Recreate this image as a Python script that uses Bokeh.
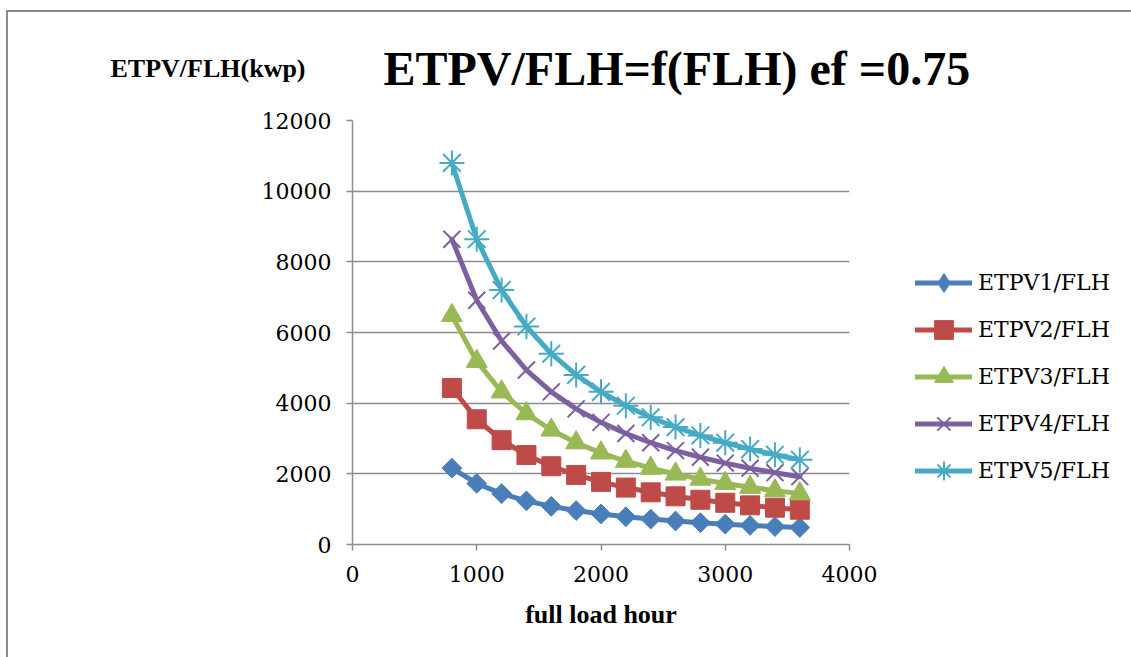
import math
from bokeh.plotting import figure
from bokeh.models import Legend, LegendItem, FixedTicker, Range1d, Title
from bokeh.embed import file_html
from bokeh.resources import INLINE

# ---- data ----
flh = [800, 1000, 1200, 1400, 1600, 1800, 2000, 2200, 2400, 2600, 2800, 3000, 3200, 3400, 3600]
etpv1 = [2160, 1728, 1440, 1234, 1080, 960, 864, 785, 720, 665, 617, 576, 540, 508, 480]
etpv2 = [4430, 3544, 2953, 2531, 2215, 1969, 1772, 1611, 1477, 1363, 1266, 1181, 1108, 1042, 984]
etpv3 = [6480, 5184, 4320, 3703, 3240, 2880, 2592, 2356, 2160, 1994, 1851, 1728, 1620, 1525, 1440]
etpv4 = [8640, 6912, 5760, 4937, 4320, 3840, 3456, 3142, 2880, 2658, 2469, 2304, 2160, 2033, 1920]
etpv5 = [10800, 8640, 7200, 6171, 5400, 4800, 4320, 3927, 3600, 3323, 3086, 2880, 2700, 2541, 2400]
series_names = ["ETPV1/FLH", "ETPV2/FLH", "ETPV3/FLH", "ETPV4/FLH", "ETPV5/FLH"]
x_ticks = [0, 1000, 2000, 3000, 4000]
y_ticks = [0, 2000, 4000, 6000, 8000, 10000, 12000]
title_text = "ETPV/FLH=f(FLH) ef =0.75"
y_title = "ETPV/FLH(kwp)"
x_title = "full load hour"

colors = ["#4A7EBB", "#BE4B48", "#98B954", "#7D60A0", "#46AAC5"]
markers = ["square", "square", "triangle", "x", "asterisk"]
legend_markers = ["diamond", None, None, None, None]
angles = [math.pi / 4, 0, 0, 0, 0]
sizes = [14, 19, 21, 24, 25]

GRID = "#8c8c8c"
SERIF = "DejaVu Serif"
TIMES = "Liberation Serif"

p = figure(frame_width=497, frame_height=424, output_backend="svg", toolbar_location=None,
           x_range=Range1d(0, 4000), y_range=Range1d(0, 12000),
           min_border_left=352, min_border_right=282, min_border_top=120,
           min_border_bottom=113)
p.outline_line_color = None
p.background_fill_color = "white"
p.border_fill_alpha = 0
p.styles = {
    "background-color": "white",
    "background-image": "linear-gradient(#8a8a8a,#8a8a8a), linear-gradient(#8a8a8a,#8a8a8a)",
    "background-size": "2px 100%, 100% 2px",
    "background-position": "6px 10px, 6px 10px",
    "background-repeat": "no-repeat",
}

p.xgrid.visible = False
p.ygrid.grid_line_color = GRID
p.ygrid.grid_line_width = 1.5
p.ygrid.ticker = FixedTicker(ticks=y_ticks)

for ax, ticks in ((p.xaxis[0], x_ticks), (p.yaxis[0], y_ticks)):
    ax.ticker = FixedTicker(ticks=ticks)
    ax.axis_line_color = GRID
    ax.axis_line_width = 1.5
    ax.major_tick_line_color = GRID
    ax.major_tick_line_width = 1.5
    ax.major_tick_out = 6
    ax.major_tick_in = 0
    ax.minor_tick_line_color = None
    ax.major_label_text_font = SERIF
    ax.major_label_text_font_size = "22px"
    ax.major_label_text_color = "black"

p.xaxis.major_label_standoff = 15
p.yaxis.major_label_standoff = 15
p.xaxis.axis_label = x_title
p.xaxis.axis_label_text_font = TIMES
p.xaxis.axis_label_text_font_style = "bold"
p.xaxis.axis_label_text_font_size = "26px"
p.xaxis.axis_label_text_color = "black"
p.xaxis.axis_label_standoff = 15

data = [etpv1, etpv2, etpv3, etpv4, etpv5]
items = []
for name, ys, c, m, lm, a, s in zip(series_names, data, colors, markers, legend_markers, angles, sizes):
    lr = p.line(flh, ys, line_color=c, line_width=5, line_join="round", line_cap="round")
    if m in ("x", "asterisk"):
        sr = p.scatter(flh, ys, marker=m, size=s, line_color=c, line_width=2, fill_color=c)
    else:
        sr = p.scatter(flh, ys, marker=m, size=s, angle=a, line_color=c, fill_color=c, line_width=1)
    if lm is not None:
        # legend-only glyph (the legend ignores marker rotation)
        lg = p.scatter(flh, ys, marker=lm, size=s, line_color=c, fill_color=c, visible=False)
        items.append(LegendItem(label=name, renderers=[lr, lg]))
    else:
        items.append(LegendItem(label=name, renderers=[lr, sr]))

legend = Legend(items=items, location=(66, 50), orientation="vertical",
                glyph_width=57, glyph_height=47, label_height=47, label_standoff=6,
                spacing=0, padding=0, margin=0,
                label_text_font=SERIF, label_text_font_size="22px",
                label_text_color="black",
                border_line_color=None, background_fill_alpha=0)
p.add_layout(legend, "right")

# main title (closest to the frame), then the y-axis title on the same row
p.add_layout(Title(text=title_text, align="left", offset=31, standoff=52,
                   text_font=TIMES, text_font_style="bold", text_font_size="48px",
                   text_color="black"), "above")
p.add_layout(Title(text=y_title, align="left", offset=-242, standoff=-138,
                   text_font=TIMES, text_font_style="bold", text_font_size="26px",
                   text_color="black"), "above")

open("out.html", "w").write(file_html(p, INLINE))
